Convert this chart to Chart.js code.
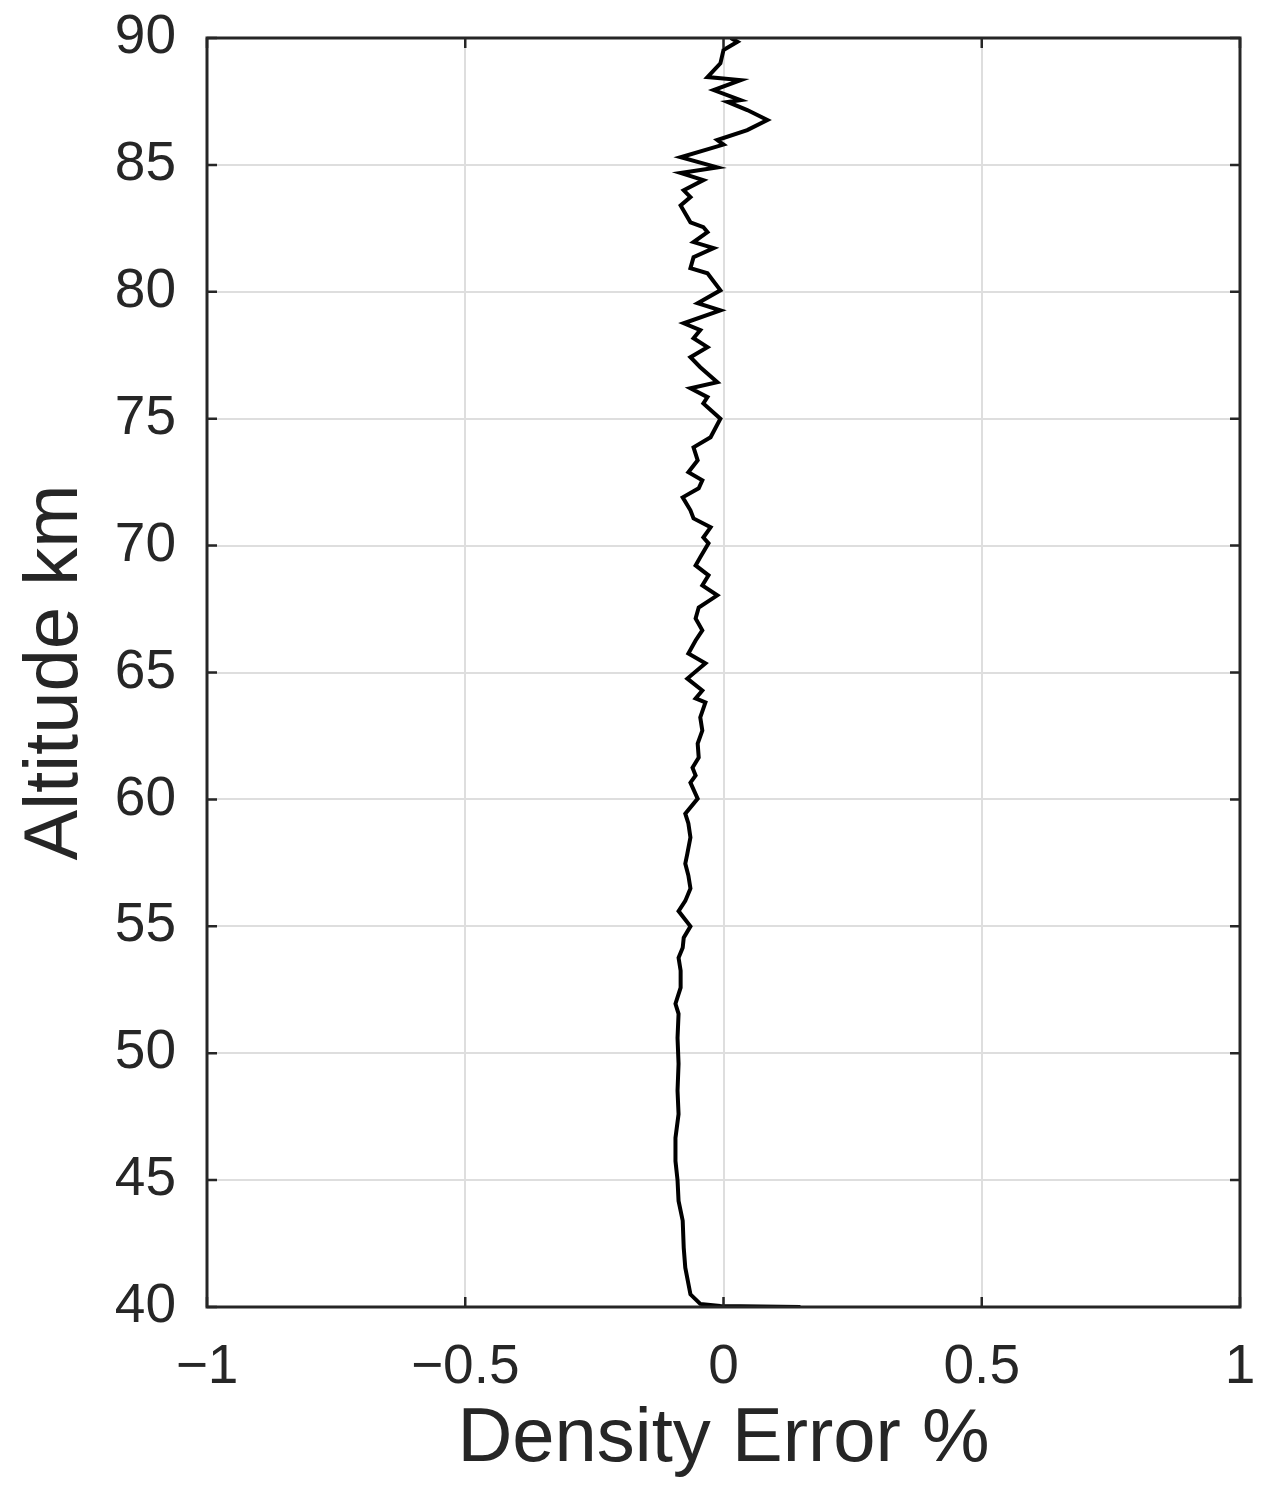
<!DOCTYPE html>
<html>
<head>
<meta charset="utf-8">
<script src="https://cdn.jsdelivr.net/npm/chart.js@4/dist/chart.umd.min.js"></script>
<style>
html,body{margin:0;padding:0;background:#fff;}
canvas{display:block;}
</style>
</head>
<body>
<canvas id="c" width="1275" height="1496"></canvas>
<script>
// Altitude (km), top to bottom
const altitudes = [
  90.0, 89.85, 89.53, 89.0, 88.46, 88.34, 87.95, 87.55, 87.48, 87.16,
  86.77, 86.37, 85.98, 85.8, 85.3, 84.9, 84.68, 84.4, 84.0, 83.73,
  83.4, 82.74, 82.55, 82.35, 81.96, 81.72, 81.36, 80.93, 80.73, 80.06,
  79.55, 79.27, 78.76, 78.49, 78.17, 77.82, 77.42, 77.03, 76.44, 76.2,
  75.85, 75.6, 75.0, 74.27, 73.87, 73.36, 72.89, 72.57, 72.26, 71.9,
  71.39, 71.07, 70.72, 70.32, 70.09, 69.54, 69.22, 68.83, 68.43, 68.04,
  67.56, 67.13, 66.66, 66.26, 65.75, 65.36, 64.76, 64.29, 63.98, 63.82,
  63.23, 62.71, 62.2, 61.65, 61.25, 60.94, 60.66, 60.03, 59.44, 59.05,
  58.5, 57.86, 57.47, 57.0, 56.49, 56.0, 55.6, 55.0, 54.55, 54.15,
  53.76, 53.25, 52.58, 51.95, 51.55, 50.6, 49.58, 48.52, 47.6, 46.66,
  45.75, 45.0, 44.18, 43.4, 42.33, 41.55, 40.5, 40.12, 40.04, 40.0
];
// Density error (%)
const densityError = [
  0.014, 0.027, 0.0, -0.006, -0.031, 0.033, -0.019, 0.033, 0.008, 0.046,
  0.085, 0.046, -0.012, 0.0, -0.083, -0.012, -0.083, -0.039, -0.077, -0.064,
  -0.083, -0.064, -0.039, -0.031, -0.058, -0.019, -0.058, -0.064, -0.031, -0.006,
  -0.05, -0.006, -0.077, -0.045, -0.058, -0.031, -0.064, -0.045, -0.012, -0.064,
  -0.031, -0.039, -0.006, -0.025, -0.058, -0.05, -0.068, -0.041, -0.048, -0.079,
  -0.064, -0.058, -0.025, -0.039, -0.029, -0.045, -0.054, -0.029, -0.041, -0.012,
  -0.048, -0.054, -0.041, -0.054, -0.068, -0.035, -0.07, -0.041, -0.054, -0.035,
  -0.045, -0.041, -0.05, -0.048, -0.06, -0.054, -0.064, -0.05, -0.074, -0.068,
  -0.064, -0.07, -0.074, -0.068, -0.064, -0.074, -0.087, -0.064, -0.077, -0.079,
  -0.087, -0.083, -0.083, -0.093, -0.087, -0.089, -0.087, -0.089, -0.087, -0.093,
  -0.093, -0.089, -0.087, -0.079, -0.077, -0.074, -0.064, -0.045, -0.006, 0.149
];
const xTickValues = [-1, -0.5, 0, 0.5, 1];
const xTickLabels = ['\u22121', '\u22120.5', '0', '0.5', '1'];
const yTickValues = [40, 45, 50, 55, 60, 65, 70, 75, 80, 85, 90];
const yTickLabels = ['40', '45', '50', '55', '60', '65', '70', '75', '80', '85', '90'];
const xTitle = 'Density Error %';
const yTitle = 'Altitude km';

const points = altitudes.map((a, i) => ({x: densityError[i], y: a}));

const AXIS_COLOR = '#262626';
const FONT = "'Liberation Sans', Arial, Helvetica, sans-serif";

const boxPlugin = {
  id: 'boxPlugin',
  afterDraw(chart) {
    const {ctx, chartArea: a, scales: {x, y}} = chart;
    ctx.save();
    ctx.strokeStyle = AXIS_COLOR;
    ctx.lineWidth = 2.5;
    const tl = 10;
    ctx.beginPath();
    y.ticks.forEach(t => {
      const py = y.getPixelForValue(t.value);
      ctx.moveTo(a.left, py); ctx.lineTo(a.left + tl, py);
      ctx.moveTo(a.right, py); ctx.lineTo(a.right - tl, py);
    });
    x.ticks.forEach(t => {
      const px = x.getPixelForValue(t.value);
      ctx.moveTo(px, a.bottom); ctx.lineTo(px, a.bottom - tl);
      ctx.moveTo(px, a.top); ctx.lineTo(px, a.top + tl);
    });
    ctx.stroke();
    ctx.lineWidth = 3;
    ctx.strokeRect(a.left, a.top, a.right - a.left, a.bottom - a.top);
    ctx.restore();
  }
};

function zeroPad(s) {
  s.paddingTop = 0; s.paddingBottom = 0; s.paddingLeft = 0; s.paddingRight = 0;
}

new Chart(document.getElementById('c'), {
  type: 'scatter',
  data: {
    datasets: [{
      data: points,
      showLine: true,
      borderColor: '#000000',
      borderWidth: 4,
      pointRadius: 0,
      tension: 0,
      fill: false
    }]
  },
  options: {
    responsive: false,
    devicePixelRatio: 1,
    animation: false,
    layout: {padding: {top: 38, right: 35, left: 0, bottom: 0}, autoPadding: false},
    plugins: {legend: {display: false}, tooltip: {enabled: false}},
    scales: {
      x: {
        type: 'linear', min: -1, max: 1,
        afterBuildTicks: s => { s.ticks = xTickValues.map(v => ({value: v})); },
        afterFit: s => { s.height = 189; zeroPad(s); },
        ticks: {
          callback: (v) => { const i = xTickValues.indexOf(v); return i >= 0 ? xTickLabels[i] : ''; },
          font: {family: FONT, size: 55}, color: AXIS_COLOR, padding: 28, maxRotation: 0, autoSkip: false
        },
        grid: {color: '#dedede', lineWidth: 2, drawTicks: false},
        border: {display: false},
        title: {display: true, text: xTitle, color: AXIS_COLOR,
          font: {family: FONT, size: 76, lineHeight: 1.2}, padding: {top: 0, bottom: 10}}
      },
      y: {
        type: 'linear', min: 40, max: 90,
        afterBuildTicks: s => { s.ticks = yTickValues.map(v => ({value: v})); },
        afterFit: s => { s.width = 207; zeroPad(s); },
        ticks: {
          callback: (v) => { const i = yTickValues.indexOf(v); return i >= 0 ? yTickLabels[i] : ''; },
          font: {family: FONT, size: 55}, color: AXIS_COLOR, padding: 31, autoSkip: false
        },
        grid: {color: '#dedede', lineWidth: 2, drawTicks: false},
        border: {display: false},
        title: {display: true, text: yTitle, color: AXIS_COLOR,
          font: {family: FONT, size: 76, lineHeight: 1.2}, padding: {top: 10, bottom: 0}}
      }
    }
  },
  plugins: [boxPlugin]
});
</script>
</body>
</html>
